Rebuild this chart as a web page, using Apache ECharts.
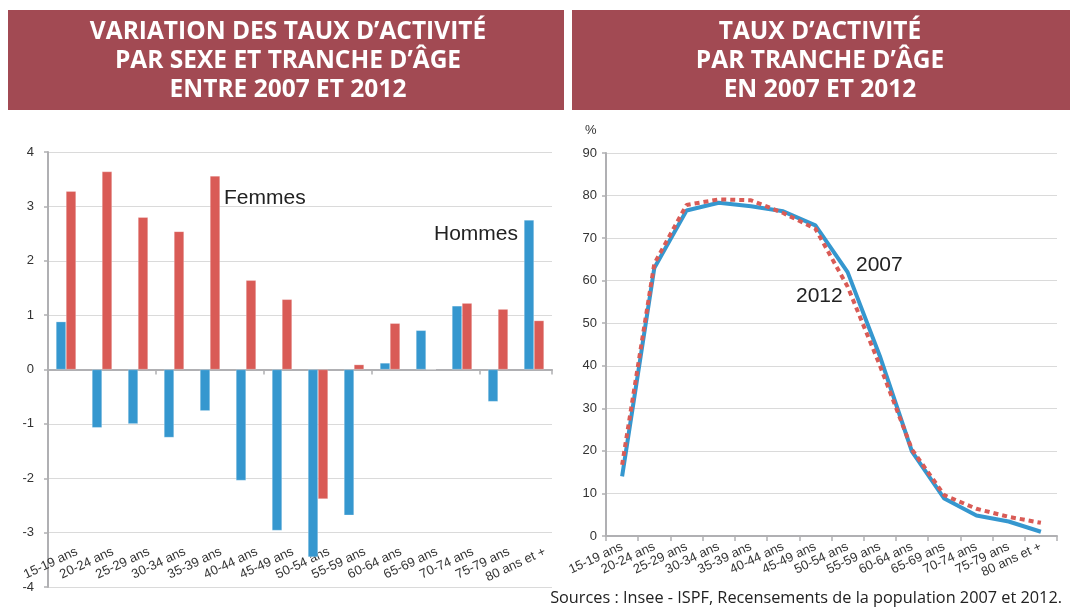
<!DOCTYPE html>
<html>
<head>
<meta charset="utf-8">
<script src="https://cdn.jsdelivr.net/npm/echarts@6/dist/echarts.min.js"></script>
<style>
html,body{margin:0;padding:0;background:#fff;}
#c{width:1070px;height:610px;}
</style>
</head>
<body>
<div id="c"></div>
<script>
const categories = ['15-19 ans','20-24 ans','25-29 ans','30-34 ans','35-39 ans','40-44 ans','45-49 ans','50-54 ans','55-59 ans','60-64 ans','65-69 ans','70-74 ans','75-79 ans','80 ans et +'];
const hommes = [0.88, -1.07, -1.0, -1.25, -0.76, -2.04, -2.96, -3.45, -2.68, 0.12, 0.72, 1.17, -0.59, 2.75];
const femmes = [3.28, 3.64, 2.80, 2.54, 3.56, 1.64, 1.29, -2.38, 0.09, 0.85, 0, 1.22, 1.11, 0.90];
const taux2007 = [14, 63, 76.5, 78.3, 77.5, 76.3, 73, 62, 42.3, 19.8, 8.8, 4.8, 3.4, 1.0];
const taux2012 = [16.7, 64, 77.8, 79.1, 78.9, 75.9, 72.2, 58.6, 40.1, 20.3, 9.6, 6.4, 4.5, 3.1];
const leftTicks = [-4, 4, 1];
const rightTicks = [0, 90, 10];
const titleLeft = ['VARIATION DES TAUX D\u2019ACTIVIT\u00c9', 'PAR SEXE ET TRANCHE D\u2019\u00c2GE', 'ENTRE 2007 ET 2012'];
const titleRight = ['TAUX D\u2019ACTIVIT\u00c9', 'PAR TRANCHE D\u2019\u00c2GE', 'EN 2007 ET 2012'];
const sourceText = 'Sources : Insee - ISPF, Recensements de la population 2007 et 2012.';

const BLUE = '#3597cf', RED = '#d95b56', AXIS = '#b0b0b3', GRID = '#dadada', TXT = '#333';
const FONT = 'Liberation Sans, Arial, sans-serif';
const TFONT = 'Open Sans, sans-serif';

const chart = echarts.init(document.getElementById('c'), null, {renderer: 'canvas'});

function bannerTexts(lines, cx) {
  return lines.map((t, i) => ({
    type: 'text', x: cx, y: 32 + i * 29,
    style: {text: t, fill: '#fff', font: 'bold 24.5px ' + TFONT, textAlign: 'center', textVerticalAlign: 'middle'}
  }));
}

const option = {
  animation: false,
  backgroundColor: '#fff',
  grid: [
    {left: 48, top: 152, width: 504, height: 435, outerBoundsMode: 'none', containLabel: false},
    {left: 606, top: 153, width: 451, height: 383, outerBoundsMode: 'none', containLabel: false},
    {left: 59, top: 152, width: 504, height: 435, outerBoundsMode: 'none', containLabel: false}
  ],
  xAxis: [
    {type: 'category', gridIndex: 0, data: categories, position: 'bottom',
     axisLine: {onZero: true, lineStyle: {color: AXIS, width: 2}},
     axisTick: {show: true, length: 5, lineStyle: {color: AXIS, width: 1.5}},
     axisLabel: {show: false}, splitLine: {show: false}},
    {type: 'category', gridIndex: 1, data: categories, boundaryGap: true,
     axisLine: {lineStyle: {color: AXIS, width: 2}},
     axisTick: {show: true, length: 5, lineStyle: {color: AXIS, width: 1.5}},
     axisLabel: {rotate: 25, margin: 10, color: TXT, fontFamily: FONT, fontSize: 13, interval: 0},
     splitLine: {show: false}},
    {type: 'category', gridIndex: 2, data: categories,
     axisLine: {show: false}, axisTick: {show: false},
     axisLabel: {rotate: 25, margin: -36, color: TXT, fontFamily: FONT, fontSize: 13, interval: 0},
     splitLine: {show: false}}
  ],
  yAxis: [
    {type: 'value', gridIndex: 0, min: leftTicks[0], max: leftTicks[1], interval: leftTicks[2],
     axisLine: {show: true, lineStyle: {color: AXIS, width: 2}},
     axisTick: {show: true, length: 4, lineStyle: {color: AXIS, width: 1.5}},
     axisLabel: {margin: 14, color: TXT, fontFamily: FONT, fontSize: 13},
     splitLine: {show: true, lineStyle: {color: GRID, width: 1.2}}},
    {type: 'value', gridIndex: 1, min: rightTicks[0], max: rightTicks[1], interval: rightTicks[2],
     axisLine: {show: true, lineStyle: {color: AXIS, width: 2}},
     axisTick: {show: true, length: 4, lineStyle: {color: AXIS, width: 1.5}},
     axisLabel: {margin: 9, color: TXT, fontFamily: FONT, fontSize: 13},
     splitLine: {show: true, lineStyle: {color: GRID, width: 1.2}}},
    {type: 'value', gridIndex: 2, min: leftTicks[0], max: leftTicks[1], show: false}
  ],
  series: [
    {name: 'Hommes', type: 'bar', xAxisIndex: 0, yAxisIndex: 0, data: hommes, barWidth: 10, barGap: '0%',
     itemStyle: {color: BLUE, borderColor: 'rgba(255,255,255,0.5)', borderWidth: 0.5}},
    {name: 'Femmes', type: 'bar', xAxisIndex: 0, yAxisIndex: 0, data: femmes, barWidth: 10, barGap: '0%',
     itemStyle: {color: RED, borderColor: 'rgba(255,255,255,0.5)', borderWidth: 0.5}},
    {name: '2007', type: 'line', xAxisIndex: 1, yAxisIndex: 1, data: taux2007, symbol: 'none',
     lineStyle: {color: BLUE, width: 4}},
    {name: '2012', type: 'line', xAxisIndex: 1, yAxisIndex: 1, data: taux2012, symbol: 'none',
     lineStyle: {color: RED, width: 4, type: [5, 4], cap: 'butt'}}
  ],
  graphic: [
    {type: 'rect', shape: {x: 8, y: 10, width: 556, height: 100}, style: {fill: '#a24a53'}},
    {type: 'rect', shape: {x: 572, y: 10, width: 498, height: 100}, style: {fill: '#a24a53'}},
    ...bannerTexts(titleLeft, 288),
    ...bannerTexts(titleRight, 820),
    {type: 'text', x: 224, y: 198, style: {text: 'Femmes', fill: '#222', font: '21px ' + FONT, textVerticalAlign: 'middle'}},
    {type: 'text', x: 434, y: 234, style: {text: 'Hommes', fill: '#222', font: '21px ' + FONT, textVerticalAlign: 'middle'}},
    {type: 'text', x: 856, y: 265, style: {text: '2007', fill: '#222', font: '21px ' + FONT, textVerticalAlign: 'middle'}},
    {type: 'text', x: 796, y: 296, style: {text: '2012', fill: '#222', font: '21px ' + FONT, textVerticalAlign: 'middle'}},
    {type: 'text', x: 585, y: 130, style: {text: '%', fill: TXT, font: '13px ' + FONT, textVerticalAlign: 'middle'}},
    {type: 'text', x: 1062, y: 598, style: {text: sourceText, fill: '#222', font: '16.3px ' + TFONT, textAlign: 'right', textVerticalAlign: 'middle'}}
  ]
};
chart.setOption(option);
</script>
</body>
</html>
